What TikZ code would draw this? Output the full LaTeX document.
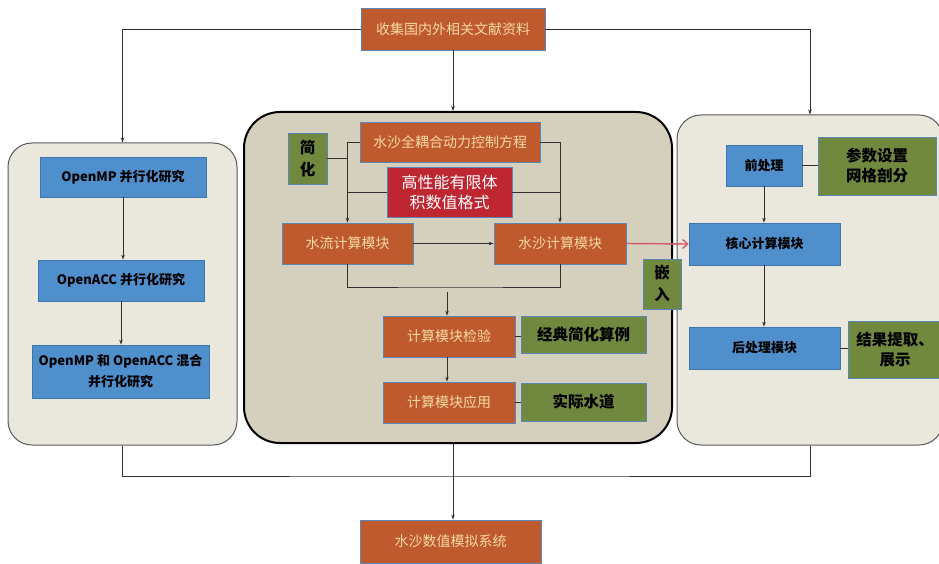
\documentclass[tikz,border=0pt]{standalone}
\usepackage{fontspec}
\setmainfont{Noto Sans CJK SC}
\usetikzlibrary{arrows.meta}
\definecolor{orangefill}{HTML}{BE5A2E}
\definecolor{peach}{HTML}{F9D9A6}
\definecolor{bluefill}{HTML}{4F8FCB}
\definecolor{bluedark}{HTML}{3F75AE}
\definecolor{edgeblue}{HTML}{5B86B8}
\definecolor{greenfill}{HTML}{71893E}
\definecolor{redfill}{HTML}{BE2632}
\definecolor{redline}{HTML}{D45A68}
\definecolor{sidepanel}{HTML}{EAE7DD}
\definecolor{midpanel}{HTML}{D5D0BE}
\definecolor{conn}{HTML}{303030}
\tikzset{
  boxbase/.style={draw, line width=0.8pt, inner sep=0pt, align=center},
  obox/.style={boxbase, draw=edgeblue, fill=orangefill, text=peach, font=\fontsize{14}{17}\selectfont},
  bbox/.style={boxbase, draw=bluedark, fill=bluefill, text=black, font=\bfseries\fontsize{13}{21}\selectfont},
  gbox/.style={boxbase, draw=edgeblue, fill=greenfill, text=black, font=\bfseries\fontsize{15.5}{20}\selectfont},
  rbox/.style={boxbase, draw=edgeblue, fill=redfill, text=white, font=\fontsize{16}{20}\selectfont},
  sidep/.style={draw=black!65, line width=1pt, fill=sidepanel, rounded corners=24pt, inner sep=0pt},
  midp/.style={draw=black, line width=2pt, fill=midpanel, rounded corners=36pt, inner sep=0pt},
  conline/.style={draw=conn, line width=0.7pt},
  arr/.style={conline, -{Stealth[length=5pt,width=3.5pt]}},
  redarr/.style={draw=redline, line width=1.4pt, -{Straight Barb[length=5pt,width=9pt]}},
}
\begin{document}
\begin{tikzpicture}[x=1pt,y=-1pt]
\useasboundingbox (0,0) rectangle (939,564);
\fill[white] (0,0) rectangle (939,564);
% panels
\node[sidep, minimum width=229pt, minimum height=302pt] (lp) at (122.5,294) {};
\node[midp, minimum width=428pt, minimum height=331pt] (mp) at (458,277.5) {};
\node[sidep, minimum width=266pt, minimum height=330pt] (rp) at (810,280) {};
% top and bottom
\node[obox, minimum width=184pt, minimum height=42pt] (top) at (453,29) {收集国内外相关文献资料};
\node[obox, minimum width=181pt, minimum height=43pt] (bot) at (450.5,541.5) {水沙数值模拟系统};
% left
\node[bbox, minimum width=166pt, minimum height=40pt] (b1) at (123,177) {OpenMP 并行化研究};
\node[bbox, minimum width=166pt, minimum height=41pt] (b2) at (121,280.5) {OpenACC 并行化研究};
\node[bbox, minimum width=177pt, minimum height=53pt] (b3) at (120.5,371.5) {OpenMP 和 OpenACC 混合\\并行化研究};
% middle
\node[obox, minimum width=180pt, minimum height=40pt] (eq) at (450,142) {水沙全耦合动力控制方程};
\node[gbox, minimum width=39pt, minimum height=51pt, font=\bfseries\fontsize{15.5}{22}\selectfont] (jh) at (307.5,158.5) {简\\化};
\node[rbox, minimum width=125pt, minimum height=50pt] (hp) at (449.5,192) {高性能有限体\\积数值格式};
\node[obox, minimum width=131pt, minimum height=41pt] (flow) at (347.5,243.5) {水流计算模块};
\node[obox, minimum width=132pt, minimum height=41pt] (sed) at (560,243.5) {水沙计算模块};
\node[obox, minimum width=132pt, minimum height=41pt] (chk) at (449,336.5) {计算模块检验};
\node[gbox, minimum width=125pt, minimum height=37pt] (ex1) at (583.5,334.5) {经典简化算例};
\node[obox, minimum width=132pt, minimum height=41pt] (app) at (449,402.5) {计算模块应用};
\node[gbox, minimum width=125pt, minimum height=38pt] (ex2) at (583.5,402) {实际水道};
% right
\node[bbox, minimum width=76pt, minimum height=41pt] (pre) at (764,165.5) {前处理};
\node[gbox, minimum width=118pt, minimum height=58pt] (par) at (877,166) {参数设置\\网格剖分};
\node[bbox, minimum width=151pt, minimum height=42pt] (core) at (764.5,244) {核心计算模块};
\node[bbox, minimum width=151pt, minimum height=42pt] (post) at (764.5,348) {后处理模块};
\node[gbox, minimum width=94pt, minimum height=57pt] (res) at (895,349.5) {结果提取、\\展示};
% embed
\node[gbox, minimum width=38pt, minimum height=50pt, font=\bfseries\fontsize{15.5}{22}\selectfont] (emb) at (662,284) {嵌\\入};
% top connectors
\draw[arr] (top.west) -| (lp.north);
\draw[arr] (top.east) -| (rp.north);
\draw[arr] (top.south) -- (top.south |- mp.north);
% bottom connectors
\coordinate (j) at (453,476);
\draw[conline] (lp.south) |- (j) -| (rp.south);
\draw[conline] (j |- mp.south) -- (j);
\draw[arr] (j) -- (j |- bot.north);
% left connectors
\draw[arr] (b1.south) -- (b1.south |- b2.north);
\draw[arr] (b2.south) -- (b2.south |- b3.north);
% middle connectors
\draw[arr] (eq.west) -| (flow.north);
\draw[conline] (jh.east) -- (jh.east -| flow.north);
\draw[conline] (hp.west) -- (hp.west -| flow.north);
\draw[arr] (eq.east) -| (sed.north);
\draw[conline] (hp.east) -- (hp.east -| sed.north);
\draw[arr] (flow.east) -- (sed.west);
\coordinate (m) at (447,287);
\draw[conline] (flow.south) |- (m) -| (sed.south);
\coordinate (m2) at (447,292);
\draw[arr] (m2) -- (m2 |- chk.north);
\draw[arr] (chk.south -| m2) -- (m2 |- app.north);
\draw[conline] (chk.east) -- (chk.east -| ex1.west);
\draw[conline] (app.east) -- (app.east -| ex2.west);
% right connectors
\draw[redarr] (sed.east) -- (core.west);
\draw[conline] (pre.east) -- (pre.east -| par.west);
\draw[arr] (pre.south) -- (pre.south |- core.north);
\draw[arr] (core.south -| pre.south) -- (pre.south |- post.north);
\draw[conline] (post.east) -- (post.east -| res.west);
\end{tikzpicture}
\end{document}
